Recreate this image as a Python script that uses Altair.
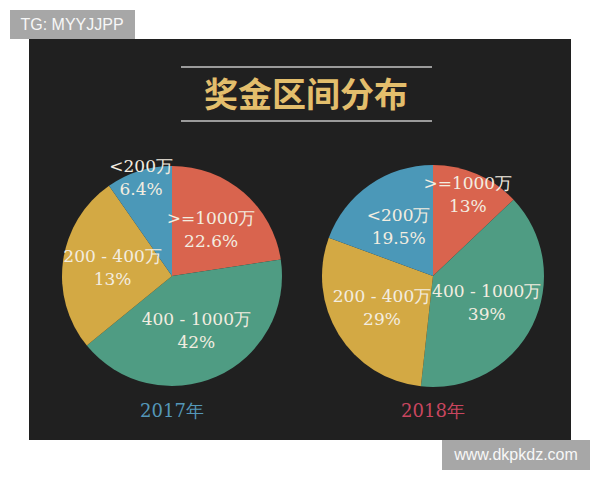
import altair as alt
import pandas as pd

# ---- data ----
categories = [">=1000万", "400 - 1000万", "200 - 400万", "<200万"]
colors = ["#d9644e", "#4f9c83", "#d3a944", "#4b98b8"]

# slice sizes as drawn (angles)
share_2017 = [22.6, 41.5, 26.2, 9.7]
pct_2017 = ["22.6%", "42%", "13%", "6.4%"]

share_2018 = [13, 39, 29, 19.5]
pct_2018 = ["13%", "39%", "29%", "19.5%"]

years = ["2017年", "2018年"]
year_colors = ["#5497b8", "#c9465f"]
title = "奖金区间分布"


def pie_df(shares, pcts):
    return pd.DataFrame({
        "cat": categories,
        "share": shares,
        "idx": list(range(len(categories))),
        "label": [c + "\n" + p for c, p in zip(categories, pcts)],
    })


df17 = pie_df(share_2017, pct_2017)
df18 = pie_df(share_2018, pct_2018)
one = pd.DataFrame({"a": [0]})

color_scale = alt.Scale(domain=categories, range=colors)

panel = alt.Chart(one).mark_rect(color="#202020").encode(
    x=alt.value(21), x2=alt.value(563), y=alt.value(31), y2=alt.value(432)
)

rule_top = alt.Chart(one).mark_rule(color="#c4c4c4", strokeWidth=1.5).encode(
    x=alt.value(173), x2=alt.value(424), y=alt.value(59)
)
rule_bot = alt.Chart(one).mark_rule(color="#c4c4c4", strokeWidth=1.5).encode(
    x=alt.value(173), x2=alt.value(424), y=alt.value(113)
)
title_txt = alt.Chart(one).mark_text(
    text=title, font="Noto Sans CJK SC", fontSize=34, fontWeight="bold", color="#e3be6c",
    align="center", baseline="middle"
).encode(x=alt.value(298), y=alt.value(89))


def pie(df, cx, cy, r):
    base = alt.Chart(df)
    arc = base.mark_arc(radius=r).encode(
        theta=alt.Theta("share:Q", stack=True),
        color=alt.Color("cat:N", scale=color_scale, legend=None),
        order=alt.Order("idx:Q"),
        x=alt.value(cx), y=alt.value(cy),
    )
    txt = base.transform_window(
        cum="sum(share)", sort=[alt.SortField("idx")]
    ).transform_joinaggregate(
        total="sum(share)"
    ).transform_calculate(
        mid="2 * PI * (datum.cum - datum.share / 2) / datum.total",
        lr="datum.share < 10 ? 103 : (datum.share < 15 ? 88 : 60)",
    ).mark_text(
        font="DejaVu Serif", fontSize=17, lineBreak="\n", lineHeight=23,
        color="#f3ede0", align="center", baseline="middle", dy=-11
    ).encode(
        theta=alt.Theta("mid:Q", scale=None),
        radius=alt.Radius("lr:Q", scale=None),
        text="label:N",
        x=alt.value(cx), y=alt.value(cy),
    )
    return arc, txt


a17, t17 = pie(df17, 164, 268, 110)
a18, t18 = pie(df18, 425, 268, 111)

ydf = pd.DataFrame({"year": years, "col": year_colors})
y17 = alt.Chart(ydf.iloc[[0]]).mark_text(
    font="DejaVu Serif", fontSize=18, color=year_colors[0], align="center", baseline="middle"
).encode(text="year:N", x=alt.value(164), y=alt.value(404))
y18 = alt.Chart(ydf.iloc[[1]]).mark_text(
    font="DejaVu Serif", fontSize=18, color=year_colors[1], align="center", baseline="middle"
).encode(text="year:N", x=alt.value(425), y=alt.value(404))

tg_box = alt.Chart(one).mark_rect(color="#a7a7a7").encode(
    x=alt.value(2), x2=alt.value(127), y=alt.value(2), y2=alt.value(31)
)
tg_txt = alt.Chart(one).mark_text(
    text="TG: MYYJJPP", font="Liberation Sans", fontSize=16, color="#f7f7f7",
    align="center", baseline="middle"
).encode(x=alt.value(64), y=alt.value(17))

www_box = alt.Chart(one).mark_rect(color="#a7a7a7").encode(
    x=alt.value(434), x2=alt.value(582), y=alt.value(432), y2=alt.value(462)
)
www_txt = alt.Chart(one).mark_text(
    text="www.dkpkdz.com", font="Liberation Sans", fontSize=16, color="#f7f7f7",
    align="center", baseline="middle"
).encode(x=alt.value(508), y=alt.value(447))

chart = alt.layer(
    panel, rule_top, rule_bot, title_txt,
    a17, t17, a18, t18, y17, y18,
    tg_box, tg_txt, www_box, www_txt,
).resolve_scale(theta="independent").properties(
    width=584, height=464, padding=0,
    autosize=alt.AutoSizeParams(type="none"),
    background="white",
).configure_view(stroke=None)

chart.save("out.html", embed_options={"renderer": "svg", "actions": False})
